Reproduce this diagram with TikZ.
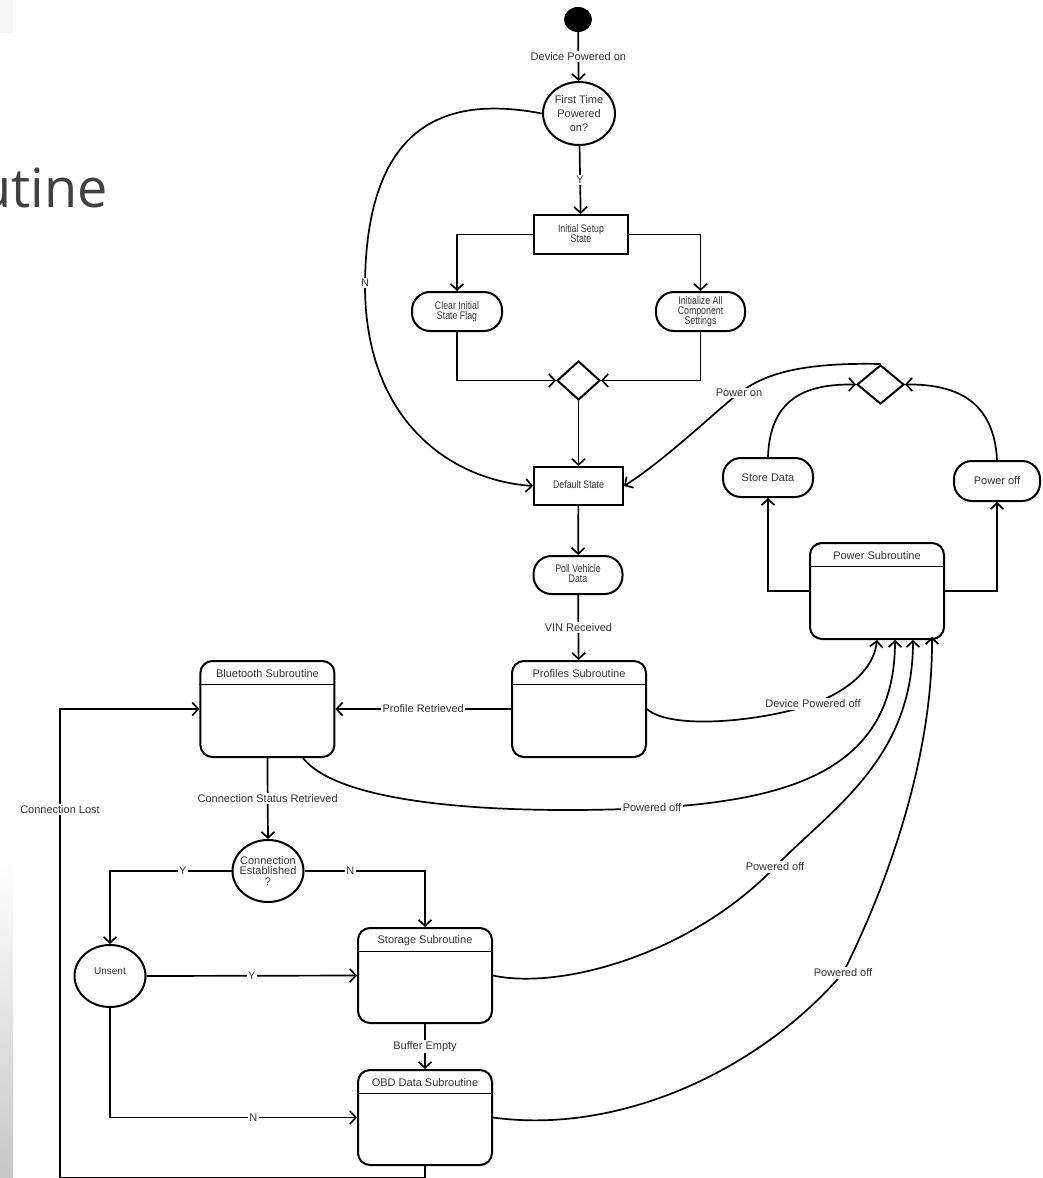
\documentclass[tikz,border=0pt]{standalone}
\usepackage{fontspec}
\usepackage{graphicx}
\setmainfont{Liberation Sans}
\newfontfamily\slidefont{Open Sans}
\usetikzlibrary{arrows.meta,shapes.geometric,calc}

\definecolor{ink}{HTML}{333333}
\definecolor{slidegray}{HTML}{404040}

% condensed, tightly set multi-line text used inside the activity boxes
\newcommand{\narrowtext}[1]{\scalebox{0.8}[1]{\fontsize{11}{8}\selectfont\begin{tabular}{@{}c@{}}#1\end{tabular}}}

\begin{document}
\begin{tikzpicture}[x=1pt,y=-1pt,
  stbase/.style={draw, line width=2pt, inner sep=0pt, text=ink, align=center,
                 font=\fontsize{11}{13}\selectfont},
  plainbox/.style={stbase, rectangle},
  pill/.style={stbase, rectangle, rounded corners=18pt},
  subr/.style={stbase, rectangle, rounded corners=12pt, minimum width=134pt, minimum height=96pt},
  decision/.style={stbase, ellipse, minimum width=71pt, minimum height=62pt},
  merge/.style={stbase, diamond, minimum width=43pt, minimum height=39pt},
  startdot/.style={ellipse, fill=black, draw=none, minimum width=28pt, minimum height=25pt, inner sep=0pt},
  subtitle/.style={anchor=center, yshift=-14pt, text=ink, font=\fontsize{11}{13}\selectfont},
  intext/.style={anchor=center, text=ink, align=center},
  divider/.style={line width=1.8pt},
  flow/.style={line width=1.7pt, -{Straight Barb[length=6pt,width=13pt]}},
  lbl/.style={fill=white, text=ink, inner sep=1.5pt, font=\fontsize{11}{13}\selectfont}
]
\useasboundingbox (0,0) rectangle (1043,1178);

% slide remnants: left edge shading and the cut title
\shade[top color=white, bottom color=black!22] (0,860) rectangle (13,1178);
\fill[black!3] (0,0) rectangle (13,33);
\node[anchor=base east, inner sep=0pt, text=slidegray,
      font=\slidefont\fontsize{54}{60}\selectfont] (heading) at (108,207) {utine};

% ---------- start-up flow ----------
\node[startdot] (start) at (578,19.5) {};
\node[decision, minimum width=72pt, minimum height=63pt,
      label={[intext, font=\fontsize{11}{14}\selectfont]center:{First Time\\Powered\\on?}}] (first) at (579,113.5) {};
\node[plainbox, minimum width=94pt, minimum height=39pt] (setup) at (581,234.5) {\narrowtext{Initial Setup\\State}};
\node[pill, minimum width=90pt, minimum height=39pt] (clear) at (457,311.5) {\narrowtext{Clear Initial\\State Flag}};
\node[pill, minimum width=89pt, minimum height=39pt] (initall) at (700.5,311.5) {\narrowtext{Initialize All\\Component\\Settings}};
\node[merge] (join) at (578.5,380.5) {};
\node[plainbox, minimum width=89pt, minimum height=38pt] (default) at (578.5,486) {\narrowtext{Default State}};
\node[pill, minimum width=89pt, minimum height=38pt] (poll) at (578,575) {\narrowtext{Poll Vehicle\\Data}};

% ---------- subroutines ----------
\node[subr, label={[subtitle]north:Profiles Subroutine}] (profiles) at (579,709) {};
\node[subr, label={[subtitle]north:Bluetooth Subroutine}] (bt) at (267.4,709) {};
\node[subr, label={[subtitle]north:Power Subroutine}] (power) at (877,591) {};
\node[subr, minimum height=95pt, label={[subtitle]north:Storage Subroutine}] (storage) at (425,975.5) {};
\node[subr, minimum height=95pt, label={[subtitle]north:OBD Data Subroutine}] (obd) at (425,1117.5) {};
\foreach \s in {profiles,bt,power,storage,obd}
  \draw[divider] ([yshift=-24.5pt]\s.north west) -- ([yshift=-24.5pt]\s.north east);

% ---------- power handling ----------
\node[pill, minimum width=90pt, minimum height=39pt] (store) at (768,477.5) {Store Data};
\node[pill, minimum width=86pt, minimum height=40pt] (off) at (997,481) {Power off};
\node[merge, minimum width=47pt, minimum height=39pt] (pjoin) at (880.5,384.5) {};

% ---------- connection handling ----------
\node[decision, label={[intext, font=\fontsize{11}{10.5}\selectfont]center:{Connection\\Established\\?}}] (conn) at (268,871) {};
\node[decision, label={[intext, yshift=5pt]center:Unsent}] (unsent) at (110,976) {};

% entry points on the bottom of the power subroutine
\coordinate (pin2) at ([xshift=18pt]power.south);
\coordinate (pin3) at ([xshift=36pt]power.south);
\coordinate (pin4) at ([xshift=55pt,yshift=3pt]power.south);
\coordinate (loopbottom) at (60,1178);
\coordinate (looptop) at (60,709);

% ---------- connectors ----------
\draw[flow] (start) -- node[lbl]{Device Powered on} (first);
\draw[flow] (first) -- node[lbl]{Y} (setup);
\draw[flow] (setup.west) -| (clear.north);
\draw[flow] (setup.east) -| (initall.north);
\draw[flow] (clear.south) |- (join.west);
\draw[flow] (initall.south) |- (join.east);
\draw[flow] (join.south) -- (default.north);
\draw[flow] (first.west) .. controls (460,98) and (367,110) .. (365,283) node[lbl]{N}
            .. controls (364,420) and (450,480) .. (default.west);
\draw[flow] (default) -- (poll);
\draw[flow] (poll) -- node[lbl]{VIN Received} (profiles);
\draw[flow] (profiles.west) -- node[lbl]{Profile Retrieved} (bt.east);
\draw[flow] (bt.south) -- node[lbl]{Connection Status Retrieved} (conn.north);
\draw[flow] (conn.west) -| node[lbl, pos=0.2]{Y} (unsent.north);
\draw[flow] (conn.east) -| node[lbl, pos=0.19]{N} (storage.north);
\draw[flow] (unsent.east) -- node[lbl]{Y} (storage.west);
\draw[flow] (unsent.south) |- node[lbl, pos=0.79]{N} (obd.west);
\draw[flow] (storage.south) -- node[lbl]{Buffer Empty} (obd.north);
\draw[flow] (obd.south) |- (loopbottom) -- node[lbl, pos=0.785]{Connection Lost} (looptop) -- (bt.west);

\draw[flow] (power.west) -| (store.south);
\draw[flow] (power.east) -| (off.south);
\draw[flow] (store.north) .. controls (770,395) and (810,384) .. (pjoin.west);
\draw[flow] (off.north) .. controls (994,400) and (955,384) .. (pjoin.east);
\draw[flow] (pjoin.north) .. controls (790,362) and (760,378) .. (739,393) node[lbl]{Power on}
            .. controls (715,412) and (665,460) .. (default.east);

\draw[flow] (profiles.east) .. controls (670,730) and (760,722) .. (813,704) node[lbl]{Device Powered off}
            .. controls (850,690) and (874,668) .. (power.south);
\draw[flow] (bt.-54) .. controls (340,805) and (500,815) .. (652,808) node[lbl]{Powered off}
            .. controls (790,800) and (895,770) .. (pin2);
\draw[flow] (storage.east) .. controls (560,990) and (690,955) .. (775,867) node[lbl]{Powered off}
            .. controls (830,810) and (913,760) .. (pin3);
\draw[flow] (obd.east) .. controls (620,1135) and (760,1070) .. (843,973) node[lbl]{Powered off}
            .. controls (885,890) and (933,760) .. (pin4);
\end{tikzpicture}
\end{document}
